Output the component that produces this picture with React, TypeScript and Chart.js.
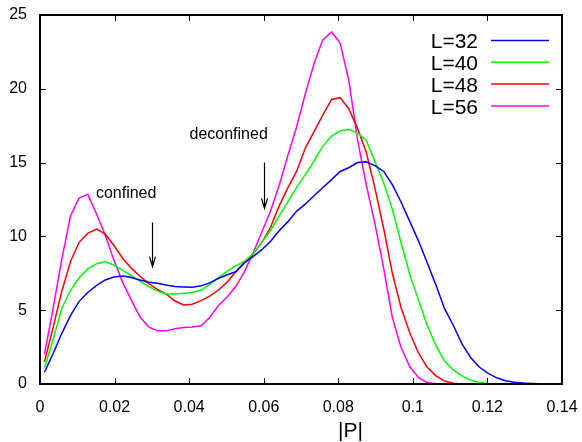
import React, { useEffect, useRef } from "react";
import { Chart, registerables } from "chart.js";

Chart.register(...registerables);

// |P| bin centres
const binCenters = [
  0.0012, 0.0035, 0.0058, 0.0082, 0.0105, 0.0128, 0.0152, 0.0175, 0.0198, 0.0222,
  0.0245, 0.0268, 0.0292, 0.0315, 0.0338, 0.0362, 0.0385, 0.0408, 0.0432, 0.0455,
  0.0478, 0.0502, 0.0525, 0.0548, 0.0572, 0.0595, 0.0618, 0.0642, 0.0665, 0.0688,
  0.0712, 0.0735, 0.0758, 0.0782, 0.0805, 0.0828, 0.0852, 0.0875, 0.0898, 0.0922,
  0.0945, 0.0968, 0.0992, 0.1015, 0.1038, 0.1062, 0.1085, 0.1108, 0.1132, 0.1155,
  0.1178, 0.1202, 0.1225, 0.1248, 0.1272, 0.1295, 0.1318, 0.1342, 0.1365, 0.1388,
];

const seriesLabels = ["L=32", "L=40", "L=48", "L=56"];
const seriesColors = ["#0000ff", "#00ff00", "#ff0000", "#ff00ff"];

const histL32 = [
  0.8, 2.05, 3.4, 4.65, 5.6, 6.2, 6.68, 7.05, 7.25, 7.32,
  7.22, 7.05, 6.9, 6.82, 6.7, 6.6, 6.57, 6.55, 6.65, 6.85,
  7.15, 7.4, 7.6, 8.2, 8.65, 9.1, 9.65, 10.4, 11.0, 11.7,
  12.2, 12.75, 13.3, 13.85, 14.4, 14.65, 15.0, 15.05, 14.8, 14.4,
  13.5, 12.35, 11.0, 9.7, 8.25, 6.7, 5.1, 4.0, 2.7, 1.8,
  1.15, 0.72, 0.42, 0.22, 0.12, 0.06, 0.03, 0.01, 0,
];
const histL40 = [
  1.1, 3.0, 5.1, 6.35, 7.2, 7.8, 8.15, 8.3, 8.05, 7.7,
  7.35, 6.95, 6.6, 6.3, 6.1, 6.1, 6.15, 6.2, 6.35, 6.75,
  7.2, 7.65, 8.0, 8.3, 8.85, 9.6, 10.4, 11.4, 12.35, 13.3,
  14.2, 15.1, 16.1, 16.8, 17.15, 17.25, 17.0, 16.5, 15.1, 13.6,
  11.85, 9.6, 7.4, 5.7, 4.0, 2.6, 1.55, 0.95, 0.55, 0.25,
  0.1, 0.03, 0,
];
const histL48 = [
  1.5, 3.8, 6.25, 8.3, 9.6, 10.2, 10.5, 10.15, 9.4, 8.5,
  7.85, 7.3, 6.8, 6.4, 6.1, 5.62, 5.35, 5.4, 5.65, 5.95,
  6.35, 6.9, 7.6, 8.25, 8.8, 9.6, 10.6, 12.1, 13.3, 14.4,
  16.0, 17.1, 18.2, 19.28, 19.4, 18.65, 17.3, 15.7, 13.3, 10.5,
  7.5, 5.2, 3.45, 2.1, 1.15, 0.55, 0.2, 0.05, 0,
];
const histL56 = [
  2.0, 5.1, 8.4, 11.4, 12.6, 12.85, 11.5, 10.1, 8.4, 6.87,
  5.68, 4.55, 3.85, 3.6, 3.6, 3.75, 3.83, 3.87, 3.95, 4.5,
  5.3, 5.9, 6.6, 7.6, 8.9, 10.3, 11.7, 13.5, 15.5, 17.4,
  19.7, 21.7, 23.3, 23.85, 23.1, 20.6, 16.5, 13.5, 10.9, 7.8,
  4.5, 2.5, 1.15, 0.45, 0.1, 0.02, 0,
];

const xTickValues = [0, 0.02, 0.04, 0.06, 0.08, 0.1, 0.12, 0.14];
const xTickLabels = ["0", "0.02", "0.04", "0.06", "0.08", "0.1", "0.12", "0.14"];
const yTickValues = [0, 5, 10, 15, 20, 25];
const yTickLabels = ["0", "5", "10", "15", "20", "25"];
const xAxisTitle = "|P|";

const noteTexts = ["confined", "deconfined"];
const noteTextX = [0.0231, 0.0506];
const noteTextY = [12.58, 16.57];
const arrowX = [0.03, 0.06];
const arrowFromY = [10.95, 15.0];
const arrowToY = [7.95, 11.9];

const FONT = "'Liberation Sans', Arial, Helvetica, sans-serif";

const decorPlugin = {
  id: "decor",
  afterDatasetsDraw(chart: any) {
    const { ctx, chartArea: a, scales } = chart;
    const xs = scales.x;
    const ys = scales.y;
    ctx.save();
    ctx.strokeStyle = "#000";
    ctx.fillStyle = "#000";

    // inward ticks on all sides
    ctx.lineWidth = 1;
    ctx.beginPath();
    xTickValues.forEach((v) => {
      const px = Math.round(xs.getPixelForValue(v)) + 0.5;
      ctx.moveTo(px, a.bottom);
      ctx.lineTo(px, a.bottom - 6);
      ctx.moveTo(px, a.top);
      ctx.lineTo(px, a.top + 6);
    });
    yTickValues.forEach((v) => {
      const py = Math.round(ys.getPixelForValue(v)) + 0.5;
      ctx.moveTo(a.left, py);
      ctx.lineTo(a.left + 6, py);
      ctx.moveTo(a.right, py);
      ctx.lineTo(a.right - 6, py);
    });
    ctx.stroke();

    // frame
    ctx.lineWidth = 2;
    ctx.strokeRect(a.left, a.top, a.right - a.left, a.bottom - a.top);

    // legend
    ctx.font = `21px ${FONT}`;
    ctx.textAlign = "right";
    ctx.textBaseline = "alphabetic";
    seriesLabels.forEach((lab, k) => {
      const cy = a.top + 25.5 + 21.8 * k;
      ctx.fillStyle = "#000";
      ctx.fillText(lab, a.right - 84, cy + 7.8);
      ctx.strokeStyle = seriesColors[k];
      ctx.lineWidth = 1.5;
      ctx.beginPath();
      ctx.moveTo(a.right - 71, cy);
      ctx.lineTo(a.right - 13, cy);
      ctx.stroke();
    });

    // annotations
    ctx.fillStyle = "#000";
    ctx.strokeStyle = "#000";
    ctx.font = `16px ${FONT}`;
    ctx.textAlign = "center";
    ctx.textBaseline = "alphabetic";
    noteTexts.forEach((t, k) => {
      ctx.fillText(t, xs.getPixelForValue(noteTextX[k]), ys.getPixelForValue(noteTextY[k]));
      const ax = Math.round(xs.getPixelForValue(arrowX[k])) + 0.5;
      const y0 = ys.getPixelForValue(arrowFromY[k]);
      const y1 = ys.getPixelForValue(arrowToY[k]);
      ctx.lineWidth = 1.2;
      ctx.beginPath();
      ctx.moveTo(ax, y0);
      ctx.lineTo(ax, y1);
      ctx.moveTo(ax - 3, y1 - 10);
      ctx.lineTo(ax, y1);
      ctx.lineTo(ax + 3, y1 - 10);
      ctx.stroke();
    });

    // x axis title
    ctx.font = `21px ${FONT}`;
    ctx.textAlign = "center";
    ctx.fillText(xAxisTitle, 350.5, 437);
    ctx.restore();
  },
};

const zeroPadding = (scale: any) => {
  scale.paddingTop = 0;
  scale.paddingBottom = 0;
  scale.paddingLeft = 0;
  scale.paddingRight = 0;
};

export default function App() {
  const canvasRef = useRef<HTMLCanvasElement | null>(null);

  useEffect(() => {
    if (!canvasRef.current) return;
    const series = [histL32, histL40, histL48, histL56];
    const chart = new Chart(canvasRef.current, {
      type: "line",
      data: {
        datasets: series.map((vals, k) => ({
          label: seriesLabels[k],
          data: vals.map((y, i) => ({ x: binCenters[i], y })),
          borderColor: seriesColors[k],
          backgroundColor: seriesColors[k],
          borderWidth: 1.5,
          pointRadius: 0,
          tension: 0,
          fill: false,
        })),
      },
      options: {
        responsive: false,
        animation: false,
        devicePixelRatio: 1,
        layout: { padding: { left: 0, right: 20, top: 15, bottom: 0 } },
        plugins: { legend: { display: false }, tooltip: { enabled: false } },
        scales: {
          x: {
            type: "linear",
            min: 0,
            max: 0.14,
            grid: { display: false, drawTicks: false },
            border: { display: false },
            afterBuildTicks: (scale: any) => {
              scale.ticks = xTickValues.map((v) => ({ value: v }));
            },
            afterFit: (scale: any) => {
              scale.height = 58;
              zeroPadding(scale);
            },
            ticks: {
              autoSkip: false,
              maxRotation: 0,
              padding: 14,
              color: "#000",
              font: { family: FONT, size: 16 },
              callback: (_v: any, i: number) => xTickLabels[i],
            },
          },
          y: {
            type: "linear",
            min: 0,
            max: 25,
            grid: { display: false, drawTicks: false },
            border: { display: false },
            afterBuildTicks: (scale: any) => {
              scale.ticks = yTickValues.map((v) => ({ value: v }));
            },
            afterFit: (scale: any) => {
              scale.width = 40;
              zeroPadding(scale);
            },
            ticks: {
              autoSkip: false,
              padding: 13,
              color: "#000",
              font: { family: FONT, size: 16 },
              callback: (_v: any, i: number) => yTickLabels[i],
            },
          },
        },
      },
      plugins: [decorPlugin],
    });
    return () => chart.destroy();
  }, []);

  return (
    <canvas
      ref={canvasRef}
      width={582}
      height={442}
      style={{ position: "absolute", left: 0, top: 0, width: 582, height: 442, background: "#fff" }}
    />
  );
}
